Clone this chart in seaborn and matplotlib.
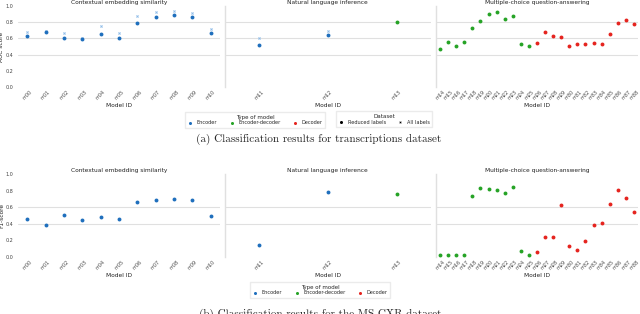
import matplotlib
matplotlib.use("Agg")
import matplotlib.pyplot as plt
from matplotlib.lines import Line2D
import pandas as pd
import seaborn as sns

# tasks and the models evaluated on each
tasks = ["Contextual embedding similarity", "Natural language inference",
         "Multiple-choice question-answering"]
models_ces = ["m00", "m01", "m02", "m03", "m04", "m05", "m06", "m07", "m08", "m09", "m10"]
models_nli = ["m11", "m12", "m13"]
models_mcqa = ["m14", "m15", "m16", "m17", "m18", "m19", "m20", "m21", "m22", "m23", "m24",
               "m25", "m26", "m27", "m28", "m29", "m30", "m31", "m32", "m33", "m34", "m35",
               "m36", "m37", "m38"]
model_types = ["Encoder", "Encoder-decoder", "Decoder"]
# type of each model, m00..m38
type_of_model = (["Encoder"] * 13) + (["Encoder-decoder"] * 13) + (["Decoder"] * 13)

# (a) transcriptions dataset, AUC score, reduced labels (m00..m38)
auc_reduced = [0.63, 0.675, 0.61, 0.595, 0.655, 0.60, 0.79, 0.87, 0.89, 0.86, 0.67,
               0.52, 0.645, 0.80,
               0.465, 0.55, 0.505, 0.555, 0.725, 0.815, 0.905, 0.92, 0.84, 0.875, 0.525,
               0.505, 0.54, 0.685, 0.63, 0.62, 0.51, 0.535, 0.535, 0.545, 0.535, 0.655,
               0.79, 0.83, 0.775]
# (a) AUC score with all labels (only m00..m12)
auc_all = [0.675, 0.69, 0.67, 0.61, 0.755, 0.665, 0.875, 0.92, 0.94, 0.91, 0.715,
           0.60, 0.695]

# (b) MS-CXR dataset, F1-score (m00..m38)
f1_score = [0.46, 0.38, 0.505, 0.445, 0.48, 0.455, 0.665, 0.685, 0.695, 0.685, 0.49,
            0.15, 0.78, 0.76,
            0.02, 0.02, 0.028, 0.02, 0.735, 0.83, 0.82, 0.81, 0.77, 0.84, 0.077, 0.02,
            0.057, 0.243, 0.243, 0.632, 0.134, 0.081, 0.194, 0.389, 0.405, 0.64, 0.806,
            0.71, 0.538]

palette = {"Encoder": "#1f6fbd", "Encoder-decoder": "#26a326", "Decoder": "#e5241f"}
light_blue = "#8dbbe8"
grid_color = "#e0e0e0"

all_models = models_ces + models_nli + models_mcqa
task_of_model = ([tasks[0]] * len(models_ces) + [tasks[1]] * len(models_nli)
                 + [tasks[2]] * len(models_mcqa))
df = pd.DataFrame({"model": all_models, "task": task_of_model, "type": type_of_model,
                   "auc": auc_reduced, "f1": f1_score})
df["auc_all"] = auc_all + [None] * (len(all_models) - len(auc_all))
df["auc_all"] = df["auc_all"].astype(float)

sns.set_style("white")
W, H = 640, 314
fig = plt.figure(figsize=(6.4, 3.14), dpi=100)


def px_axes(x0, x1, ytop, ybot):
    return fig.add_axes([x0 / W, 1 - ybot / H, (x1 - x0) / W, (ybot - ytop) / H])


cols = [(18, 220), (224.5, 431), (436, 638)]
orders = [models_ces, models_nli, models_mcqa]


def draw_row(ytop, ybot, col, ylabel, grid_levels, with_all):
    axes = []
    for i, (x0, x1) in enumerate(cols):
        ax = px_axes(x0, x1, ytop, ybot)
        sub = df[df.task == tasks[i]]
        for g in grid_levels:
            ax.axhline(g, color=grid_color, lw=0.8, zorder=0)
        if with_all:
            sns.stripplot(data=sub, x="model", y="auc_all", order=orders[i], jitter=False,
                          marker="X", color=light_blue, size=2.0, linewidth=0, ax=ax,
                          zorder=2)
        sns.stripplot(data=sub, x="model", y=col, order=orders[i], hue="type",
                      hue_order=model_types, palette=palette, jitter=False, size=2.8,
                      linewidth=0, legend=False, ax=ax, zorder=3)
        ax.set_ylim(0, 1.0)
        ax.set_yticks([0.0, 0.2, 0.4, 0.6, 0.8, 1.0])
        ax.set_title(tasks[i], fontsize=4.2, pad=1.5, color="#222222")
        ax.set_xlabel("Model ID", fontsize=4.2, labelpad=1, color="#222222")
        ax.tick_params(axis="both", length=0, labelsize=3.5, colors="#444444", pad=2)
        for lab in ax.get_xticklabels():
            lab.set_rotation(45)
        for s in ax.spines.values():
            s.set_visible(False)
        if i == 0:
            ax.tick_params(axis="y", pad=3.5)
            ax.set_ylabel(ylabel, fontsize=4.2, color="#222222")
            ax.yaxis.set_label_coords((4.5 - x0) / (x1 - x0), 0.5)
        else:
            ax.set_ylabel("")
            ax.set_yticklabels([])
            ax.spines["left"].set_visible(True)
            ax.spines["left"].set_color(grid_color)
            ax.spines["left"].set_linewidth(1.0)
        axes.append(ax)
    return axes


draw_row(6, 87, "auc", "AUC score", [0.4, 0.6, 0.8], True)
draw_row(174, 257, "f1", "F1-score", [0.4, 0.6], False)

type_handles = [Line2D([], [], marker="o", ls="", color=palette[t], markersize=2.2,
                       markeredgewidth=0, label=t) for t in model_types]
leg_kw = dict(fontsize=3.6, title_fontsize=4.0, frameon=True, edgecolor="#e6e6e6",
              fancybox=False, handlelength=1.0, handletextpad=0.8, columnspacing=2.4,
              borderpad=0.5, labelspacing=0.2)
leg1 = fig.legend(handles=type_handles, title="Type of model", ncol=3, loc="center",
                  bbox_to_anchor=(255 / W, 1 - 120 / H), **leg_kw)
data_handles = [Line2D([], [], marker="o", ls="", color="black", markersize=2.2,
                       markeredgewidth=0, label="Reduced labels"),
                Line2D([], [], marker="X", ls="", color="black", markersize=1.6,
                       markeredgewidth=0, label="All labels")]
leg2 = fig.legend(handles=data_handles, title="Dataset", ncol=2, loc="center",
                  bbox_to_anchor=(384 / W, 1 - 119 / H), **leg_kw)
leg3 = fig.legend(handles=type_handles, title="Type of model", ncol=3, loc="center",
                  bbox_to_anchor=(320 / W, 1 - 290 / H), **leg_kw)

fig.text(319 / W, 1 - 139 / H, "(a) Classification results for transcriptions dataset",
         ha="center", va="center", fontsize=8, family="cmr10")
fig.text(320 / W, 1 - 309 / H, "(b) Classification results for the MS-CXR dataset",
         ha="center", va="top", fontsize=8, family="cmr10")

fig.savefig("out.png", dpi=100)
